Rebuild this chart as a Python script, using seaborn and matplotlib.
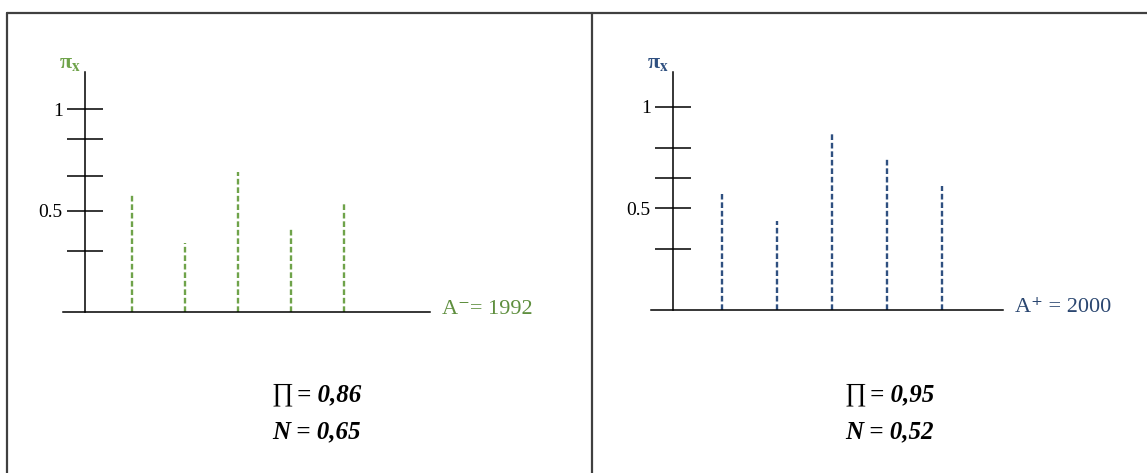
import matplotlib.pyplot as plt
from matplotlib.lines import Line2D
import seaborn as sns

# possibility distributions before / after
positions = [1, 2, 3, 4, 5]
pi_before = [0.58, 0.34, 0.69, 0.41, 0.54]
pi_after = [0.57, 0.44, 0.87, 0.75, 0.61]
ticks_before = [0.3, 0.5, 0.67, 0.85, 1.0]
ticks_after = [0.3, 0.5, 0.65, 0.8, 1.0]
tick_names = {0.5: '0.5', 1.0: '1'}
axis_label_before = 'A\u207b= 1992'
axis_label_after = 'A\u207a = 2000'
pi_label = r'π$_{\mathbf{x}}$'
stats_before = ['0,86', '0,65']
stats_after = ['0,95', '0,52']

green = '#6fa34a'
green_text = '#5f8f3f'
blue = '#2f5080'
blue_text = '#2a4670'
border = '#404040'

W, H = 1147, 473
SCALE = 203  # pixels per unit of pi


def fx(px):
    return px / W


def fy(py):
    return 1 - py / H


def panel(fig, values, ticks, left, axis_x, right, base, top, origin, step, color, text_color,
          axis_label, stats):
    ax = fig.add_axes([fx(left), fy(base), fx(right - left), (base - top) / H])
    ax.vlines(positions, 0, values, colors=color, linewidth=1.7, linestyles=(0, (2.4, 1.2)))
    ax.set_xlim((left - origin) / step, (right - origin) / step)
    ax.set_ylim(0, (base - top) / SCALE)
    ax.patch.set_alpha(0)
    for side in ['top', 'right']:
        ax.spines[side].set_visible(False)
    ax.spines['left'].set_position(('data', (axis_x - origin) / step))
    for side in ['left', 'bottom']:
        ax.spines[side].set_color('black')
        ax.spines[side].set_linewidth(1.1)
    ax.set_xticks([])
    ax.set_yticks(ticks)
    ax.set_yticklabels([tick_names.get(t, '') for t in ticks])
    ax.tick_params(axis='y', direction='inout', length=26, width=1.1, pad=3,
                   labelsize=14, left=True, colors='black')
    fig.text(fx(axis_x - 15), fy(top - 9), pi_label, color=color, fontsize=16,
             fontweight='bold', ha='center', va='center')
    fig.text(fx(right + 12), fy(base - 3), axis_label, color=text_color,
             fontsize=16, ha='left', va='center')
    return ax


def main():
    sns.set_theme(style='white')
    plt.rcParams['font.family'] = ['Liberation Serif', 'DejaVu Serif']
    plt.rcParams['mathtext.fontset'] = 'stix'

    fig = plt.figure(figsize=(W / 100, H / 100), dpi=100)
    fig.patch.set_facecolor('white')

    # table frame
    fig.add_artist(Line2D([fx(7), 1], [fy(13), fy(13)], color=border, lw=1.6))
    fig.add_artist(Line2D([fx(7), fx(7)], [fy(13), 0], color=border, lw=1.6))
    fig.add_artist(Line2D([fx(592), fx(592)], [fy(13), 0], color=border, lw=1.6))

    panel(fig, pi_before, ticks_before, 63, 85, 430, 312, 72, 79, 53,
          green, green_text, axis_label_before, stats_before)
    panel(fig, pi_after, ticks_after, 651, 673, 1003, 310, 72, 667, 55,
          blue, blue_text, axis_label_after, stats_after)

    for x0, stats in [(272, stats_before), (845, stats_after)]:
        fig.text(fx(x0), fy(395), '\u220f', fontsize=19, ha='left', va='center', color='black')
        fig.text(fx(x0 + 25), fy(395), f'= {stats[0]}', fontsize=18, fontweight='bold',
                 style='italic', ha='left', va='center', color='black')
        fig.text(fx(x0), fy(432), f'N = {stats[1]}', fontsize=18, fontweight='bold',
                 style='italic', ha='left', va='center', color='black')

    plt.savefig('out.png', dpi=100)
    plt.close()


if __name__ == '__main__':
    main()
